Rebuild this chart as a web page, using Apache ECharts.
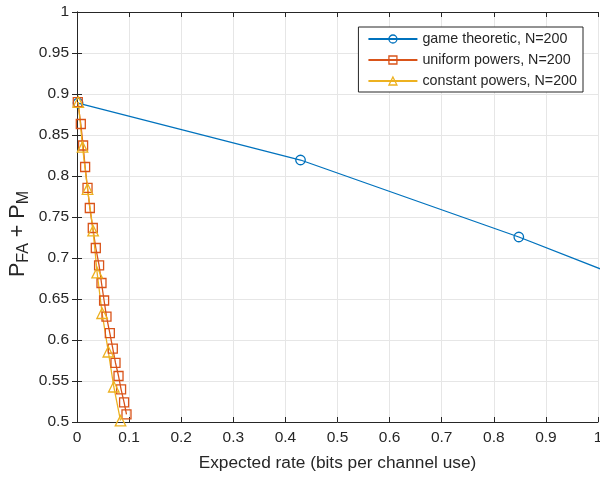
<!DOCTYPE html>
<html>
<head>
<meta charset="utf-8">
<script src="https://cdn.jsdelivr.net/npm/echarts@6/dist/echarts.min.js"></script>
<style>html,body{margin:0;padding:0;background:#fff;}#c{width:600px;height:477px;}</style>
</head>
<body>
<div id="c"></div>
<script>
var xTicks = [0, 0.1, 0.2, 0.3, 0.4, 0.5, 0.6, 0.7, 0.8, 0.9, 1];
var yTicks = [0.5, 0.55, 0.6, 0.65, 0.7, 0.75, 0.8, 0.85, 0.9, 0.95, 1];

var gameX = [0.002, 0.429, 0.848, 1.27];
var gameY = [0.889, 0.8195, 0.7256, 0.621];

var uniformX = [0.0015, 0.0073, 0.0117, 0.0156, 0.0202, 0.0246, 0.0303, 0.0361, 0.0424, 0.0470, 0.0520, 0.0566, 0.0630, 0.0687, 0.0739, 0.0797, 0.0846, 0.0904, 0.0950];
var uniformY = [0.8902, 0.8634, 0.8372, 0.8110, 0.7854, 0.7610, 0.7366, 0.7122, 0.6909, 0.6695, 0.6482, 0.6284, 0.6085, 0.5894, 0.5720, 0.5561, 0.5399, 0.5240, 0.5094];

var constX = [0.0025, 0.0106, 0.0202, 0.0309, 0.0386, 0.0482, 0.0601, 0.0706, 0.0835];
var constY = [0.8902, 0.8354, 0.7841, 0.7333, 0.6821, 0.6326, 0.5857, 0.5430, 0.5016];

var names = ['game theoretic, N=200', 'uniform powers, N=200', 'constant powers, N=200'];
var colors = ['#0072BD', '#D95319', '#EDB120'];

function zip(a, b) { return a.map(function (v, i) { return [v, b[i]]; }); }

var FONT = '"Liberation Sans", Arial, Helvetica, sans-serif';
var TXT = '#262626';

var chart = echarts.init(document.getElementById('c'));
function mkSeries(name, data, color, symbol, size) {
  return {
    name: name, type: 'line', data: data, symbol: symbol, symbolSize: size,
    showAllSymbol: true, clip: true, animation: false,
    lineStyle: { color: color, width: 1.3 },
    itemStyle: { color: 'rgba(255,255,255,0)', borderColor: color, borderWidth: 1.3 },
    emphasis: { disabled: true }
  };
}
var baseAxis = {
  axisLine: { show: true, lineStyle: { color: TXT, width: 1 } },
  axisTick: { show: true, inside: true, length: 5, lineStyle: { color: TXT } },
  splitLine: { show: false }
};
chart.setOption({
  animation: false,
  textStyle: { fontFamily: FONT },
  grid: { left: 77, right: 2, top: 12, bottom: 55, containLabel: false, outerBoundsMode: 'none' },
  legend: {
    data: names.map(function (n, i) {
      return { name: n, itemStyle: { color: 'rgba(255,255,255,0)', borderColor: colors[i], borderWidth: 1.3 } };
    }),
    orient: 'vertical', right: 17, top: 27,
    itemWidth: 49, itemHeight: 10, itemGap: 7,
    padding: [5, 6, 4, 9],
    borderColor: TXT, borderWidth: 1, backgroundColor: '#fff',
    textStyle: { fontSize: 14.3, color: TXT, fontFamily: FONT, padding: [0, 0, 0, 0] }
  },
  xAxis: [
    Object.assign({}, baseAxis, {
      type: 'value', min: 0, max: 1, interval: 0.1,
      name: 'Expected rate (bits per channel use)', nameLocation: 'middle', nameGap: 33,
      nameMoveOverlap: false,
      nameTextStyle: { fontSize: 17.3, color: TXT, fontFamily: FONT },
      axisLabel: { fontSize: 15.5, color: TXT, margin: 8, formatter: function (v) { return String(+v.toFixed(2)); } },
      splitLine: { show: true, lineStyle: { color: '#e6e6e6', width: 1 } }
    }),
    Object.assign({}, baseAxis, {
      type: 'value', min: 0, max: 1, interval: 0.1, position: 'top',
      axisLabel: { show: false }
    })
  ],
  yAxis: [
    Object.assign({}, baseAxis, {
      type: 'value', min: 0.5, max: 1, interval: 0.05,
      name: '{p|P}{s|FA}{p| + P}{s|M}', nameLocation: 'middle', nameGap: 45, nameRotate: 90,
      nameMoveOverlap: false,
      nameTextStyle: {
        color: TXT, fontFamily: FONT, padding: [0, 34, 0, 0],
        rich: {
          p: { fontSize: 21.5, color: TXT, fontFamily: FONT, lineHeight: 28, verticalAlign: 'middle' },
          s: { fontSize: 16, color: TXT, fontFamily: FONT, lineHeight: 12, verticalAlign: 'bottom' }
        }
      },
      axisLabel: { fontSize: 15.5, color: TXT, margin: 8, formatter: function (v) { return String(+v.toFixed(2)); } },
      splitLine: { show: true, lineStyle: { color: '#e6e6e6', width: 1 } }
    }),
    Object.assign({}, baseAxis, {
      type: 'value', min: 0.5, max: 1, interval: 0.05, position: 'right',
      axisLabel: { show: false }
    })
  ],
  series: [
    mkSeries(names[0], zip(gameX, gameY), colors[0], 'circle', 9.5),
    mkSeries(names[1], zip(uniformX, uniformY), colors[1], 'rect', 9),
    mkSeries(names[2], zip(constX, constY), colors[2], 'triangle', 10.5)
  ]
});
</script>
</body>
</html>
